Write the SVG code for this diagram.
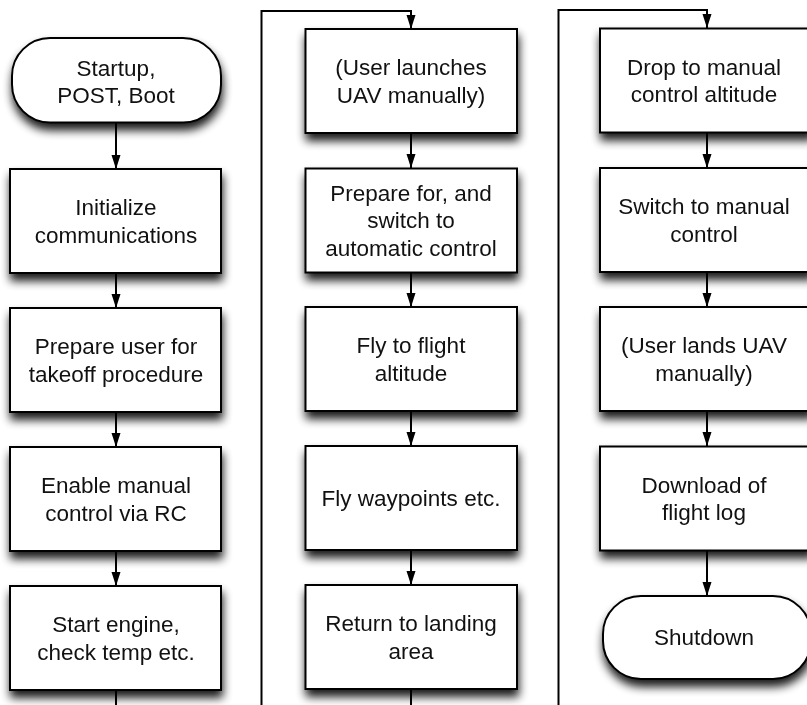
<svg xmlns="http://www.w3.org/2000/svg" width="807" height="705" viewBox="0 0 807 705">
<defs>
<filter id="sh" x="-10%" y="-20%" width="125%" height="160%" color-interpolation-filters="sRGB">
<feGaussianBlur in="SourceAlpha" stdDeviation="5" result="b"/>
<feOffset in="b" dx="1" dy="7" result="o"/>
<feComponentTransfer in="o" result="s"><feFuncA type="linear" slope="0.9"/></feComponentTransfer>
<feMerge><feMergeNode in="s"/><feMergeNode in="SourceGraphic"/></feMerge>
</filter>
<marker id="ah" viewBox="0 0 14 10" refX="14" refY="5" markerWidth="14" markerHeight="10" markerUnits="userSpaceOnUse" orient="auto">
<path d="M0,0.5 L14,5 L0,9.5 Z" fill="#000"/>
</marker>
<style>
.box{fill:#fff;stroke:#000;stroke-width:2}
.t{font-family:"Liberation Sans",Arial,Helvetica,sans-serif;font-size:22.5px;fill:#111;text-anchor:middle}
.c{fill:none;stroke:#000;stroke-width:2}
.a{marker-end:url(#ah)}
</style>
</defs>
<rect width="807" height="705" fill="#fff"/>

<g id="connectors">
<path class="c a" d="M116,123 V169"/>
<path class="c a" d="M116,273 V308"/>
<path class="c a" d="M116,412 V447"/>
<path class="c a" d="M116,551 V586"/>
<path class="c a" d="M116,690 V716 H261.5 V11 H411 V29"/>
<path class="c a" d="M411,133 V168"/>
<path class="c a" d="M411,272 V307"/>
<path class="c a" d="M411,411 V446"/>
<path class="c a" d="M411,550 V585"/>
<path class="c a" d="M411,689 V716 H558.5 V10 H707 V28"/>
<path class="c a" d="M707,132 V168"/>
<path class="c a" d="M707,272 V307"/>
<path class="c a" d="M707,411 V446"/>
<path class="c a" d="M707,550 V596"/>
</g>

<g id="startup" filter="url(#sh)">
<rect class="box" x="12" y="38" width="209" height="84.5" rx="38" ry="38"/>
<text class="t" x="116" y="76">Startup,</text>
<text class="t" x="116" y="102.5">POST, Boot</text>
</g>
<g id="init" filter="url(#sh)">
<rect class="box" x="10" y="169" width="211" height="104"/>
<text class="t" x="116" y="215">Initialize</text>
<text class="t" x="116" y="242.5">communications</text>
</g>
<g id="prepare-user" filter="url(#sh)">
<rect class="box" x="10" y="308" width="211" height="104"/>
<text class="t" x="116" y="354">Prepare user for</text>
<text class="t" x="116" y="381.5">takeoff procedure</text>
</g>
<g id="enable-manual" filter="url(#sh)">
<rect class="box" x="10" y="447" width="211" height="104"/>
<text class="t" x="116" y="493">Enable manual</text>
<text class="t" x="116" y="520.5">control via RC</text>
</g>
<g id="start-engine" filter="url(#sh)">
<rect class="box" x="10" y="586" width="211" height="104"/>
<text class="t" x="116" y="632">Start engine,</text>
<text class="t" x="116" y="659.5">check temp etc.</text>
</g>

<g id="user-launches" filter="url(#sh)">
<rect class="box" x="305.5" y="29" width="211.5" height="104"/>
<text class="t" x="411" y="75">(User launches</text>
<text class="t" x="411" y="102.5">UAV manually)</text>
</g>
<g id="switch-auto" filter="url(#sh)">
<rect class="box" x="305.5" y="168.5" width="211.5" height="104"/>
<text class="t" x="411" y="200.5">Prepare for, and</text>
<text class="t" x="411" y="228">switch to</text>
<text class="t" x="411" y="255.5">automatic control</text>
</g>
<g id="fly-altitude" filter="url(#sh)">
<rect class="box" x="305.5" y="307" width="211.5" height="104"/>
<text class="t" x="411" y="353">Fly to flight</text>
<text class="t" x="411" y="380.5">altitude</text>
</g>
<g id="fly-waypoints" filter="url(#sh)">
<rect class="box" x="305.5" y="446" width="211.5" height="104"/>
<text class="t" x="411" y="505.5">Fly waypoints etc.</text>
</g>
<g id="return-landing" filter="url(#sh)">
<rect class="box" x="305.5" y="585" width="211.5" height="104"/>
<text class="t" x="411" y="631">Return to landing</text>
<text class="t" x="411" y="658.5">area</text>
</g>

<g id="drop-altitude" filter="url(#sh)">
<rect class="box" x="600" y="28.5" width="212" height="104"/>
<text class="t" x="704" y="74.5">Drop to manual</text>
<text class="t" x="704" y="102">control altitude</text>
</g>
<g id="switch-manual" filter="url(#sh)">
<rect class="box" x="600" y="168" width="212" height="104"/>
<text class="t" x="704" y="214">Switch to manual</text>
<text class="t" x="704" y="241.5">control</text>
</g>
<g id="user-lands" filter="url(#sh)">
<rect class="box" x="600" y="307" width="212" height="104"/>
<text class="t" x="704" y="353">(User lands UAV</text>
<text class="t" x="704" y="380.5">manually)</text>
</g>
<g id="download-log" filter="url(#sh)">
<rect class="box" x="600" y="446.5" width="212" height="104"/>
<text class="t" x="704" y="492.5">Download of</text>
<text class="t" x="704" y="520">flight log</text>
</g>
<g id="shutdown" filter="url(#sh)">
<rect class="box" x="603" y="596" width="208" height="83" rx="38" ry="38"/>
<text class="t" x="704" y="645">Shutdown</text>
</g>
</svg>
